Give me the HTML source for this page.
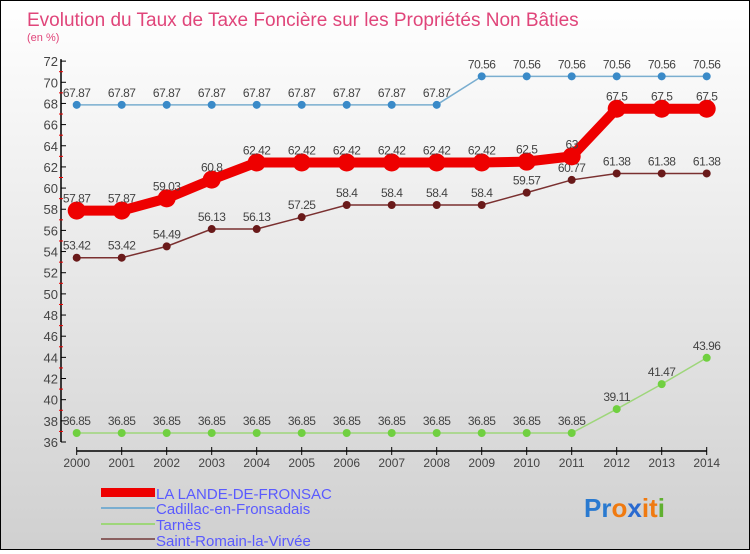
<!DOCTYPE html>
<html><head><meta charset="utf-8"><style>
body{margin:0;width:750px;height:550px;overflow:hidden;font-family:"Liberation Sans",sans-serif}
#wrap{position:relative;width:748px;height:548px;border:1px solid #000;background:linear-gradient(#fff,#d0d0d0)}
</style></head><body>
<div id="wrap">
<svg id="chart" width="748" height="548" xmlns="http://www.w3.org/2000/svg">
<text x="26" y="25" font-size="19" fill="#e0457a">Evolution du Taux de Taxe Foncière sur les Propriétés Non Bâties</text>
<text x="26" y="40" font-size="11" fill="#e0457a">(en %)</text>
<g id="axes"></g><g id="series"></g>
<g>
<rect x="100" y="487" width="54" height="9" fill="#e00"/>
<text x="155" y="498" font-size="15" fill="#5a5aff">LA LANDE-DE-FRONSAC</text>
<rect x="100" y="506" width="54" height="2" fill="#7aaed0"/>
<text x="155" y="513" font-size="15" fill="#5a5aff">Cadillac-en-Fronsadais</text>
<rect x="100" y="522" width="54" height="2" fill="#9ed67a"/>
<text x="155" y="529" font-size="15" fill="#5a5aff">Tarnès</text>
<rect x="100" y="537" width="54" height="2" fill="#8a6060"/>
<text x="155" y="545" font-size="15" fill="#5a5aff">Saint-Romain-la-Virvée</text>
</g>
<text x="583" y="516" font-size="26" font-weight="bold"><tspan fill="#2a7ad0">Pr</tspan><tspan fill="#f07a10">o</tspan><tspan fill="#2a6ad0">x</tspan><tspan fill="#f07a10">it</tspan><tspan fill="#60b030">i</tspan></text>
</svg></div>
<script>
const years=[2000,2001,2002,2003,2004,2005,2006,2007,2008,2009,2010,2011,2012,2013,2014];
const yTicks=[36,38,40,42,44,46,48,50,52,54,56,58,60,62,64,66,68,70,72];
const laLande=[57.87,57.87,59.03,60.8,62.42,62.42,62.42,62.42,62.42,62.42,62.5,63,67.5,67.5,67.5];
const cadillac=[67.87,67.87,67.87,67.87,67.87,67.87,67.87,67.87,67.87,70.56,70.56,70.56,70.56,70.56,70.56];
const tarnes=[36.85,36.85,36.85,36.85,36.85,36.85,36.85,36.85,36.85,36.85,36.85,36.85,39.11,41.47,43.96];
const saintRomain=[53.42,53.42,54.49,56.13,56.13,57.25,58.4,58.4,58.4,58.4,59.57,60.77,61.38,61.38,61.38];
const NS="http://www.w3.org/2000/svg";
const X=i=>75.7+i*45, Y=v=>441-(v-36)*10.58;
function mk(p,t,a){const e=document.createElementNS(NS,t);for(const k in a)e.setAttribute(k,a[k]);p.appendChild(e);return e;}
const ax=document.getElementById('axes');
let e=mk(ax,'line',{x1:60,y1:Y(72)-2,x2:60,y2:Y(36),stroke:'#000','stroke-width':1.5});


e=mk(ax,'line',{x1:X(0),y1:450,x2:X(14),y2:450,stroke:'#000','stroke-width':1.5});


yTicks.forEach(v=>{
 mk(ax,'line',{x1:60,y1:Y(v),x2:65,y2:Y(v),stroke:'#000'});
 if(v<72)mk(ax,'line',{x1:58,y1:Y(v+1),x2:62,y2:Y(v+1),stroke:'#e00'});
 const t=mk(ax,'text',{x:57,y:Y(v)+5,'font-size':13,'text-anchor':'end',fill:'#444'});t.textContent=v;
 
 
});
years.forEach((y,i)=>{
 mk(ax,'line',{x1:X(i),y1:446,x2:X(i),y2:454,stroke:'#000'});
 const t=mk(ax,'text',{x:X(i),y:466,'font-size':12,'text-anchor':'middle',fill:'#444'});t.textContent=y;
 
 
});
const sg=document.getElementById('series');
function draw(arr,name,col,w,r,dot){
 const g=mk(sg,'g',{});
 
 
 mk(g,'polyline',{points:arr.map((v,i)=>X(i)+','+Y(v)).join(' '),fill:'none',stroke:col,'stroke-width':w});
 arr.forEach((v,i)=>{
  const c=mk(g,'circle',{cx:X(i),cy:Y(v),r:r,fill:dot});
  
  
  const t=mk(g,'text',{x:X(i),y:Y(v)-8,'font-size':12,'text-anchor':'middle',fill:'#444','letter-spacing':'-0.5'});t.textContent=v;
  
  
 });
}
draw(cadillac,'cadillac','#7aaed0',1.5,4,'#3a8ac8');
draw(tarnes,'tarnes','#9ed67a',1.5,4,'#70d040');
draw(saintRomain,'saint-romain','#7a3030',1.5,4,'#6a1a1a');
draw(laLande,'la-lande','#e00',10,9,'#e00');
</script>
</body></html>
